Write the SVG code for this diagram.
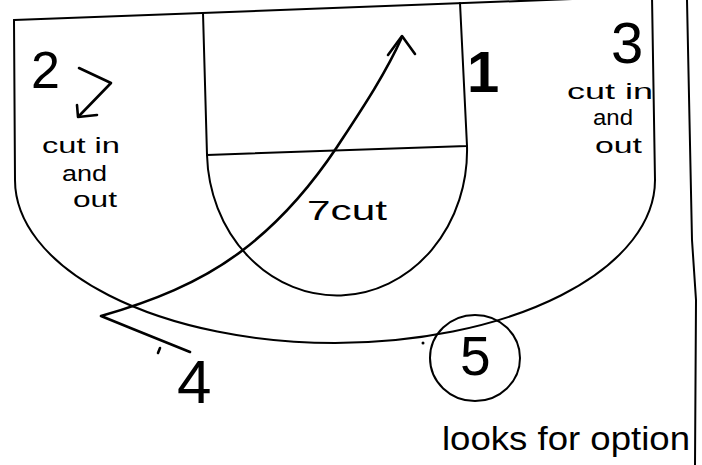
<svg xmlns="http://www.w3.org/2000/svg" width="702" height="465" viewBox="0 0 702 465">
<style>
.ln{fill:none;stroke:#000;stroke-width:2;stroke-linecap:round;stroke-linejoin:round}
.pen{fill:none;stroke:#000;stroke-width:2.6;stroke-linecap:round;stroke-linejoin:round}
.t{font-family:"Liberation Sans",Arial,sans-serif;fill:#000}
.s{font-size:22px}
</style>
<rect width="702" height="465" fill="#fff"/>
<g id="court">
<path class="ln" d="M14,20 L652,-4 L655,180"/>
<path class="ln" d="M14,20 L15,180 A320 163 0 0 0 655,180"/>
<path class="ln" d="M687,0 L692,240 L696,300 L695,465"/>
</g>
<g id="lane">
<path class="ln" d="M203,13 L207,155 L467,146 L460,3"/>
<path class="ln" d="M207,155 A130 145 0 0 0 467,146"/>
</g>
<g id="connectors">
<path class="pen" d="M190,352 C165,342 130,328 101,316 C150,302 200,283 243,250 C285,218 315,180 337,147 C360,112 385,75 402,37"/>
<path class="pen" d="M388,55 L402,36 L415,54"/>
<path class="pen" d="M79,68 L111,83 L79,116"/>
<path class="pen" d="M77,105 L78,117 L97,115"/>
</g>
<g id="p2"><text class="t" x="31" y="88" font-size="52">2</text>
<text class="t s" x="42" y="153" textLength="78" lengthAdjust="spacingAndGlyphs">cut in</text>
<text class="t s" x="62" y="181" textLength="45" lengthAdjust="spacingAndGlyphs">and</text>
<text class="t s" x="73" y="207" textLength="44" lengthAdjust="spacingAndGlyphs">out</text></g>
<g id="p1"><text class="t" x="467" y="92" font-size="58" font-weight="bold">1</text></g>
<g id="p3"><text class="t" x="611" y="63" font-size="58">3</text>
<text class="t s" x="567" y="99" textLength="86" lengthAdjust="spacingAndGlyphs">cut in</text>
<text class="t s" x="593" y="125" textLength="40" lengthAdjust="spacingAndGlyphs">and</text>
<text class="t s" x="595" y="153" textLength="47" lengthAdjust="spacingAndGlyphs">out</text></g>
<g id="cutlabel"><text class="t" x="307" y="220" font-size="28" textLength="80" lengthAdjust="spacingAndGlyphs">7cut</text></g>
<g id="p4"><path class="pen" d="M160,348 L158,353"/>
<text class="t" x="177" y="403" font-size="62">4</text></g>
<g id="p5"><circle cx="423" cy="343" r="1.5" fill="#000"/>
<ellipse class="ln" cx="475" cy="358" rx="45" ry="43"/>
<text class="t" x="460" y="375" font-size="55">5</text>
<text class="t" x="442" y="450" font-size="34" textLength="248" lengthAdjust="spacingAndGlyphs">looks for option</text></g>
</svg>
